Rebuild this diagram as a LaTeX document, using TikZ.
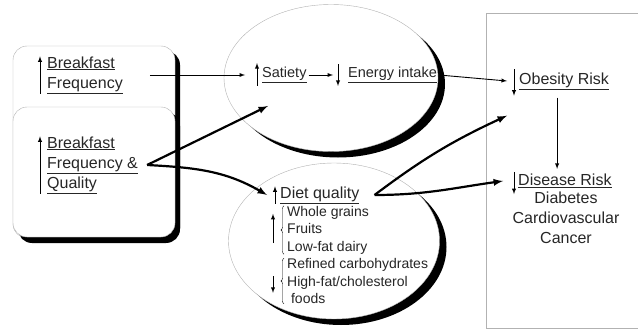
\documentclass[tikz,border=0pt]{standalone}
\usepackage{fontspec}
\setmainfont{Liberation Sans}
\usetikzlibrary{shapes,shadows,decorations.pathreplacing}

\begin{document}
\begin{tikzpicture}[x=1pt,y=-1pt,>=latex]
  \tikzstyle{panel}=[draw=gray!60,fill=white,rounded corners=14pt,inner sep=0,
    drop shadow={shadow xshift=5pt,shadow yshift=-5pt,opacity=1,fill=black}]
  \tikzstyle{bubble}=[ellipse,draw=gray!60,fill=white,inner sep=0,
    drop shadow={shadow xshift=7pt,shadow yshift=-6pt,opacity=1,fill=black}]
  \tikzstyle{txt}=[inner sep=0,align=left,text=black!85,font=\fontsize{16}{20}\selectfont]
  \tikzstyle{mid}=[inner sep=0,align=left,text=black!85,font=\fontsize{14.5}{18}\selectfont]
  \tikzstyle{small}=[inner sep=0,align=left,text=black!85,font=\fontsize{14}{17.5}\selectfont]
  \tikzstyle{thin}=[->,line width=0.9pt]
  \tikzstyle{thick}=[->,line width=2.2pt]
  \tikzstyle{updown}=[->,line width=0.9pt]
  \useasboundingbox (0,0) rectangle (638,329);

  % frames
  \node[panel,minimum width=162pt,minimum height=192pt] (fbox) at (94,142) {};
  \node[panel,minimum width=162pt,minimum height=130pt] (qbox) at (94,172) {};
  \node[bubble,minimum width=214pt,minimum height=147pt] (sbub) at (331,78) {};
  \node[bubble,minimum width=211pt,minimum height=156pt] (dbub) at (334,241) {};
  \draw[gray!60] (638,13) -| (486,328) -- (638,328);

  % texts
  \node[txt,anchor=west] (bf) at (47,75) {\underline{Breakfast}\\\underline{Frequency}};
  \node[txt,anchor=west] (bq) at (47,165) {\underline{Breakfast}\\\underline{Frequency \&}\\\underline{Quality}};
  \node[mid,anchor=west] (sat) at (262,75) {\underline{Satiety}};
  \node[mid,anchor=west] (ei) at (348,75) {\underline{Energy intake}};
  \node[txt,anchor=west] (dq) at (280,195) {\underline{Diet quality}};
  \node[small,anchor=west] (good) at (287,230) {Whole grains\\Fruits\\Low-fat dairy};
  \node[small,anchor=west] (bad) at (287,281) {Refined carbohydrates\\High-fat/cholesterol\\\ foods};
  \node[txt,anchor=west] (ob) at (519,81) {\underline{Obesity Risk}};
  \node[txt,anchor=west] (dr) at (518,181) {\underline{Disease Risk}};
  \node[txt,align=center,anchor=north] (dl) at (566,192) {Diabetes\\Cardiovascular\\Cancer};

  % small arrows
  \draw[updown] ([xshift=-7pt]bf.south west) -- ([xshift=-7pt]bf.north west);
  \draw[updown] ([xshift=-7pt]bq.south west) -- ([xshift=-7pt]bq.north west);
  \draw[updown] ([xshift=-5pt,yshift=-3pt]sat.south west) -- ([xshift=-5pt,yshift=4pt]sat.north west);
  \draw[updown] ([xshift=-10pt,yshift=3pt]ei.north west) -- ([xshift=-10pt,yshift=-3pt]ei.south west);
  \draw[updown] ([xshift=-5pt]dq.south west) -- ([xshift=-5pt]dq.north west);
  \draw[updown] ([xshift=-14pt,yshift=11pt]good.south west) -- ([xshift=-14pt,yshift=-8pt]good.north west);
  \draw[updown] ([xshift=-14pt,yshift=-18pt]bad.north west) -- ([xshift=-14pt,yshift=11pt]bad.south west);
  \draw[updown] ([xshift=-5pt,yshift=3pt]ob.north west) -- ([xshift=-5pt,yshift=-6pt]ob.south west);
  \draw[updown] ([xshift=-4pt,yshift=2pt]dr.north west) -- ([xshift=-4pt,yshift=-6pt]dr.south west);
  \draw[decorate,decoration={brace,amplitude=3pt}] ([xshift=-3pt]good.south west) -- ([xshift=-3pt]good.north west);
  \draw[decorate,decoration={brace,amplitude=3pt}] ([xshift=-3pt]bad.south west) -- ([xshift=-3pt]bad.north west);

  % links
  \coordinate (bqo) at ([xshift=9pt]bq.east);
  \coordinate (dqo) at ([xshift=15pt]dq.east);
  \draw[thin] ([xshift=27pt]bf.east) -- ([xshift=-17pt]sat.west);
  \draw[thin] ([xshift=2pt]sat.east) -- ([xshift=-15pt]ei.west);
  \draw[thin] ([xshift=2pt]ei.east) -- ([xshift=-12pt]ob.west);
  \draw[thin] ([xshift=-7pt,yshift=-8pt]ob.south) -- ([xshift=-7pt,yshift=5pt]ob.south |- dr.north);
  \draw[thick] (bqo) -- ([xshift=6pt,yshift=-23pt]sat.south west);
  \draw[thick] (bqo) to[out=-3,in=150] ([xshift=-13pt]dq.west);
  \draw[thick] (dqo) to[bend left=6] ([xshift=-12pt,yshift=-26pt]ob.south west);
  \draw[thick] (dqo) to[out=0,in=188] ([xshift=-15pt]dr.west);
\end{tikzpicture}
\end{document}
